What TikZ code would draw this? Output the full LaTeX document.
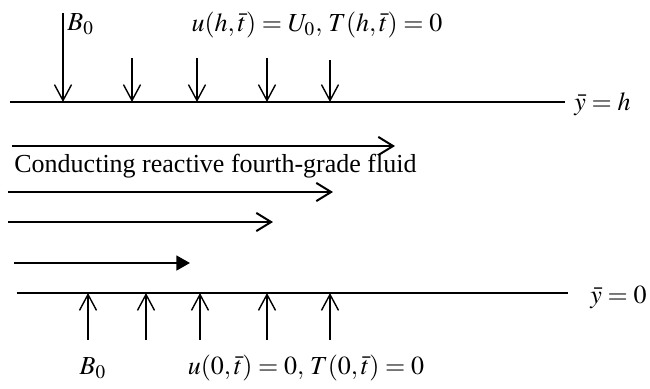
\documentclass[tikz,border=0pt]{standalone}
\usepackage{amsmath}
\usepackage{mathptmx}
\usepackage{fontspec}
\setmainfont{Liberation Serif}
\usepackage{tikz}
\usetikzlibrary{arrows.meta,positioning}
\tikzset{
  chwall/.style={line width=1.1pt},
  chfield/.style={-{Straight Barb[length=2.8mm,width=3mm]}, line width=.7pt},
  chflow/.style={-{Straight Barb[length=2.6mm,width=3.2mm]}, line width=1pt},
  chflowfill/.style={-{Triangle[length=2.4mm,width=2.6mm]}, line width=1.2pt},
  chlabel/.style={inner sep=0pt}
}

\begin{document}
\begin{tikzpicture}[x=.5pt, y=-.5pt, font=\fontsize{13}{15}\selectfont]
  \useasboundingbox (0,0) rectangle (650,388);
  % channel walls
  \node[chlabel, anchor=west] (yh) at (574,104) {$\bar{y} = h$};
  \node[chlabel, anchor=west] (y0) at (590,297) {$\bar{y} = 0$};
  \coordinate (topL) at (10,102);
  \coordinate (topR) at (565,102);
  \coordinate (botL) at (17,293);
  \coordinate (botR) at (568,293);
  \draw[chwall] (topL) -- (topR);
  \draw[chwall] (botL) -- (botR);
  % magnetic field, upper wall
  \foreach \x/\ys [count=\i] in {63/13,132/58,197/58,267/58,330/60} {
    \coordinate (ta\i) at (\x,\ys);
    \coordinate (tb\i) at (\x,102);
    \draw[chfield] (ta\i) -- (tb\i);
  }
  % magnetic field, lower wall
  \foreach \x [count=\i] in {88,146,200,267,330} {
    \coordinate (ba\i) at (\x,340);
    \coordinate (bb\i) at (\x,293);
    \draw[chfield] (ba\i) -- (bb\i);
  }
  % velocity profile
  \foreach \y/\xs/\xe [count=\i] in {146/12/395,192/8/333,222/8/273} {
    \coordinate (fs\i) at (\xs,\y);
    \coordinate (fe\i) at (\xe,\y);
    \draw[chflow] (fs\i) -- (fe\i);
  }
  \coordinate (fs4) at (14,263);
  \coordinate (fe4) at (190,263);
  \draw[chflowfill] (fs4) -- (fe4);
  % labels
  \node[chlabel, anchor=west] (btop) at (67,24) {$B_0$};
  \node[chlabel] (bctop) at (317,25) {$u(h,\bar{t})=U_0,\,T(h,\bar{t})=0$};
  \node[chlabel, anchor=west] (fluid) at (14,166) {Conducting reactive fourth-grade fluid};
  \node[chlabel] (bbot) at (93,368) {$B_0$};
  \node[chlabel] (bcbot) at (306,368) {$u(0,\bar{t})=0,\,T(0,\bar{t})=0$};
\end{tikzpicture}
\end{document}
